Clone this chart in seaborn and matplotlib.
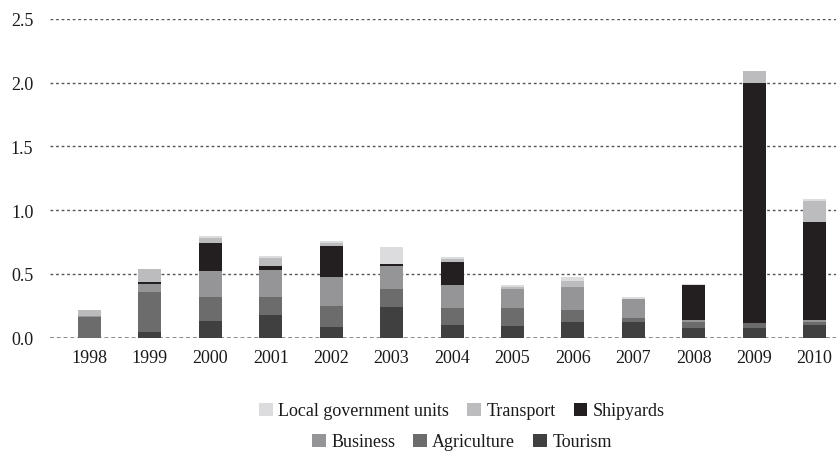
import pandas as pd
import matplotlib.pyplot as plt
import seaborn as sns
from matplotlib.patches import Patch

# Values (stacked, bottom to top)
years = ['1998', '1999', '2000', '2001', '2002', '2003', '2004',
         '2005', '2006', '2007', '2008', '2009', '2010']
tourism = [0.0, 0.045, 0.13, 0.18, 0.085, 0.24, 0.10, 0.09, 0.125, 0.125, 0.075, 0.075, 0.10]
agriculture = [0.16, 0.31, 0.19, 0.14, 0.16, 0.14, 0.13, 0.14, 0.09, 0.03, 0.045, 0.04, 0.025]
business = [0.01, 0.07, 0.205, 0.21, 0.23, 0.185, 0.18, 0.155, 0.18, 0.15, 0.015, 0.0, 0.015]
shipyards = [0.0, 0.015, 0.22, 0.03, 0.245, 0.01, 0.18, 0.0, 0.0, 0.0, 0.275, 1.885, 0.77]
transport = [0.05, 0.095, 0.04, 0.065, 0.025, 0.0, 0.025, 0.015, 0.05, 0.0, 0.0, 0.095, 0.165]
local_gov = [0.0, 0.0, 0.015, 0.015, 0.01, 0.14, 0.015, 0.015, 0.035, 0.015, 0.015, 0.0, 0.015]

series = ['Tourism', 'Agriculture', 'Business', 'Shipyards', 'Transport', 'Local government units']
colors = {'Tourism': '#404040', 'Agriculture': '#6c6c6c', 'Business': '#959597',
          'Shipyards': '#231f20', 'Transport': '#bcbcbe', 'Local government units': '#dcdcde'}

df = pd.DataFrame({'Year': years, 'Tourism': tourism, 'Agriculture': agriculture,
                   'Business': business, 'Shipyards': shipyards, 'Transport': transport,
                   'Local government units': local_gov})

# cumulative sums so bars can be overlaid from the top down
cum = df[series].cumsum(axis=1)
cum['Year'] = df['Year']

sns.set_theme(style='white')
plt.rcParams['font.family'] = ['Liberation Serif', 'DejaVu Serif']

fig = plt.figure(figsize=(8.36, 4.52), dpi=100)
ax = fig.add_axes([50 / 836, 1 - 338.7 / 452, 786 / 836, (338.7 - 20) / 452])

# gridlines behind the bars
for v in [0.5, 1.0, 1.5, 2.0, 2.5]:
    ax.axhline(v, color='#555555', lw=1.0, ls=(0, (2, 2)), zorder=0)
ax.axhline(0, color='#8a8a8a', lw=1.4, ls=(0, (2, 1.5)), zorder=0)

for name in reversed(series):
    sns.barplot(data=cum, x='Year', y=name, color=colors[name], width=0.38,
                saturation=1, linewidth=0, ax=ax, zorder=2)

ax.set_ylim(0, 2.5)
ax.set_xlim(-0.654, 12.355)
ax.set_yticks([0, 0.5, 1.0, 1.5, 2.0, 2.5])
ax.set_yticklabels(['0.0', '0.5', '1.0', '1.5', '2.0', '2.5'])
ax.set_xlabel('')
ax.set_ylabel('')
ax.tick_params(axis='both', length=0, labelsize=13, colors='#1a1a1a')
ax.tick_params(axis='y', pad=12)
ax.tick_params(axis='x', pad=8)
ax.grid(False)
sns.despine(ax=ax, left=True, bottom=True)

# legend in two rows like the original
row1 = ['Local government units', 'Transport', 'Shipyards']
row2 = ['Business', 'Agriculture', 'Tourism']
for names, y in [(row1, 1 - 412 / 452), (row2, 1 - 443 / 452)]:
    handles = [Patch(facecolor=colors[n], edgecolor='none', label=n) for n in names]
    fig.legend(handles=handles, loc='center', bbox_to_anchor=(462 / 836, y),
               ncol=3, frameon=False, fontsize=13, handlelength=0.75,
               handleheight=0.75, handletextpad=0.3, columnspacing=1.0,
               labelcolor='#1a1a1a')

fig.savefig('out.png', dpi=100)
